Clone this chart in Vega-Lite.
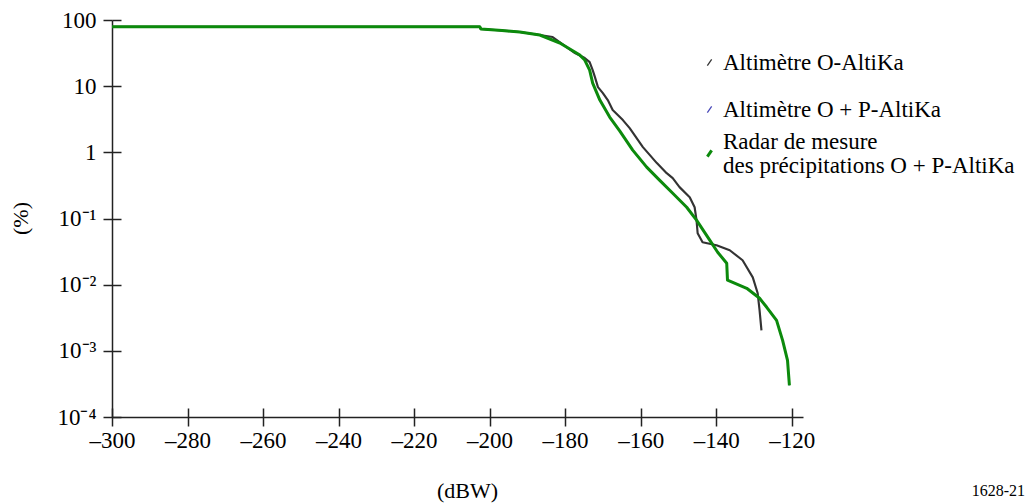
{
  "$schema": "https://vega.github.io/schema/vega-lite/v6.json",
  "width": 691,
  "height": 397,
  "autosize": "none",
  "padding": {"left": 112, "top": 20, "right": 233, "bottom": 87},
  "background": "white",
  "config": {
    "font": "Liberation Serif",
    "view": {"stroke": null},
    "axis": {"labelFont": "Liberation Serif", "titleFont": "Liberation Serif", "labelFlush": false, "grid": true, "gridColor": "#222", "gridWidth": 1.5, "gridOpacity": 1, "domainColor": "#222", "domainWidth": 1.5, "tickColor": "#222", "tickWidth": 1.5, "tickSize": 9, "labelColor": "#000", "titleColor": "#000", "labelFontSize": 23, "titleFontSize": 22, "titleFontWeight": "normal"},
    "legend": {"labelFont": "Liberation Serif", "labelFontSize": 23, "labelColor": "#000", "labelLimit": 500}
  },
  "title": {"text": "1628-21", "orient": "bottom", "anchor": "end", "frame": "group", "font": "Liberation Serif", "fontSize": 16, "fontWeight": "normal", "color": "#000", "dx": 222, "dy": -22},
  "data": {"values": [
    {"s": "Altimètre O-AltiKa", "x": -300, "y": 79.2},
    {"s": "Altimètre O-AltiKa", "x": -202.6, "y": 79.2},
    {"s": "Altimètre O-AltiKa", "x": -202.3, "y": 73.1},
    {"s": "Altimètre O-AltiKa", "x": -196.7, "y": 69.4},
    {"s": "Altimètre O-AltiKa", "x": -192.0, "y": 65.8},
    {"s": "Altimètre O-AltiKa", "x": -186.7, "y": 59.3},
    {"s": "Altimètre O-AltiKa", "x": -183.3, "y": 55.3},
    {"s": "Altimètre O-AltiKa", "x": -177.4, "y": 31.7},
    {"s": "Altimètre O-AltiKa", "x": -174.8, "y": 26.6},
    {"s": "Altimètre O-AltiKa", "x": -173.5, "y": 23.1},
    {"s": "Altimètre O-AltiKa", "x": -172.7, "y": 17.5},
    {"s": "Altimètre O-AltiKa", "x": -172.1, "y": 13.7},
    {"s": "Altimètre O-AltiKa", "x": -171.3, "y": 9.69},
    {"s": "Altimètre O-AltiKa", "x": -170.0, "y": 7.86},
    {"s": "Altimètre O-AltiKa", "x": -168.7, "y": 6.16},
    {"s": "Altimètre O-AltiKa", "x": -167.4, "y": 4.35},
    {"s": "Altimètre O-AltiKa", "x": -164.7, "y": 3.07},
    {"s": "Altimètre O-AltiKa", "x": -162.9, "y": 2.32},
    {"s": "Altimètre O-AltiKa", "x": -159.4, "y": 1.20},
    {"s": "Altimètre O-AltiKa", "x": -155.7, "y": 0.687},
    {"s": "Altimètre O-AltiKa", "x": -153.1, "y": 0.484},
    {"s": "Altimètre O-AltiKa", "x": -151.5, "y": 0.407},
    {"s": "Altimètre O-AltiKa", "x": -149.7, "y": 0.298},
    {"s": "Altimètre O-AltiKa", "x": -147.0, "y": 0.210},
    {"s": "Altimètre O-AltiKa", "x": -145.7, "y": 0.148},
    {"s": "Altimètre O-AltiKa", "x": -145.2, "y": 0.0943},
    {"s": "Altimètre O-AltiKa", "x": -144.9, "y": 0.0599},
    {"s": "Altimètre O-AltiKa", "x": -143.6, "y": 0.0438},
    {"s": "Altimètre O-AltiKa", "x": -139.9, "y": 0.0395},
    {"s": "Altimètre O-AltiKa", "x": -136.4, "y": 0.0331},
    {"s": "Altimètre O-AltiKa", "x": -133.0, "y": 0.0234},
    {"s": "Altimètre O-AltiKa", "x": -130.3, "y": 0.0129},
    {"s": "Altimètre O-AltiKa", "x": -129.0, "y": 0.00741},
    {"s": "Altimètre O-AltiKa", "x": -128.5, "y": 0.00410},
    {"s": "Altimètre O-AltiKa", "x": -128.0, "y": 0.00204},
    {"s": "Altimètre O + P-AltiKa", "x": -300, "y": 79.2},
    {"s": "Altimètre O + P-AltiKa", "x": -202.6, "y": 79.2},
    {"s": "Altimètre O + P-AltiKa", "x": -202.3, "y": 73.1},
    {"s": "Altimètre O + P-AltiKa", "x": -196.7, "y": 69.4},
    {"s": "Altimètre O + P-AltiKa", "x": -192.0, "y": 65.8},
    {"s": "Altimètre O + P-AltiKa", "x": -186.7, "y": 59.3},
    {"s": "Altimètre O + P-AltiKa", "x": -181.4, "y": 44.9},
    {"s": "Altimètre O + P-AltiKa", "x": -176.1, "y": 29.5},
    {"s": "Altimètre O + P-AltiKa", "x": -174.8, "y": 24.8},
    {"s": "Altimètre O + P-AltiKa", "x": -173.5, "y": 17.5},
    {"s": "Altimètre O + P-AltiKa", "x": -172.7, "y": 11.1},
    {"s": "Altimètre O + P-AltiKa", "x": -170.8, "y": 6.16},
    {"s": "Altimètre O + P-AltiKa", "x": -168.2, "y": 3.41},
    {"s": "Altimètre O + P-AltiKa", "x": -165.5, "y": 2.09},
    {"s": "Altimètre O + P-AltiKa", "x": -162.1, "y": 1.08},
    {"s": "Altimètre O + P-AltiKa", "x": -158.4, "y": 0.597},
    {"s": "Altimètre O + P-AltiKa", "x": -155.0, "y": 0.380},
    {"s": "Altimètre O + P-AltiKa", "x": -151.5, "y": 0.241},
    {"s": "Altimètre O + P-AltiKa", "x": -147.8, "y": 0.148},
    {"s": "Altimètre O + P-AltiKa", "x": -145.2, "y": 0.0943},
    {"s": "Altimètre O + P-AltiKa", "x": -141.7, "y": 0.0470},
    {"s": "Altimètre O + P-AltiKa", "x": -139.6, "y": 0.0309},
    {"s": "Altimètre O + P-AltiKa", "x": -137.2, "y": 0.0211},
    {"s": "Altimètre O + P-AltiKa", "x": -137.0, "y": 0.0117},
    {"s": "Altimètre O + P-AltiKa", "x": -131.9, "y": 0.00882},
    {"s": "Altimètre O + P-AltiKa", "x": -128.5, "y": 0.00623},
    {"s": "Altimètre O + P-AltiKa", "x": -126.6, "y": 0.00455},
    {"s": "Altimètre O + P-AltiKa", "x": -124.0, "y": 0.00289},
    {"s": "Altimètre O + P-AltiKa", "x": -122.4, "y": 0.00144},
    {"s": "Altimètre O + P-AltiKa", "x": -121.1, "y": 0.000718},
    {"s": "Altimètre O + P-AltiKa", "x": -120.6, "y": 0.000301},
    {"s": "Radar de mesure des précipitations O + P-AltiKa", "x": -300, "y": 79.2},
    {"s": "Radar de mesure des précipitations O + P-AltiKa", "x": -202.6, "y": 79.2},
    {"s": "Radar de mesure des précipitations O + P-AltiKa", "x": -202.3, "y": 73.1},
    {"s": "Radar de mesure des précipitations O + P-AltiKa", "x": -196.7, "y": 69.4},
    {"s": "Radar de mesure des précipitations O + P-AltiKa", "x": -192.0, "y": 65.8},
    {"s": "Radar de mesure des précipitations O + P-AltiKa", "x": -186.7, "y": 59.3},
    {"s": "Radar de mesure des précipitations O + P-AltiKa", "x": -181.4, "y": 44.9},
    {"s": "Radar de mesure des précipitations O + P-AltiKa", "x": -176.1, "y": 29.5},
    {"s": "Radar de mesure des précipitations O + P-AltiKa", "x": -174.8, "y": 24.8},
    {"s": "Radar de mesure des précipitations O + P-AltiKa", "x": -173.5, "y": 17.5},
    {"s": "Radar de mesure des précipitations O + P-AltiKa", "x": -172.7, "y": 11.1},
    {"s": "Radar de mesure des précipitations O + P-AltiKa", "x": -170.8, "y": 6.16},
    {"s": "Radar de mesure des précipitations O + P-AltiKa", "x": -168.2, "y": 3.41},
    {"s": "Radar de mesure des précipitations O + P-AltiKa", "x": -165.5, "y": 2.09},
    {"s": "Radar de mesure des précipitations O + P-AltiKa", "x": -162.1, "y": 1.08},
    {"s": "Radar de mesure des précipitations O + P-AltiKa", "x": -158.4, "y": 0.597},
    {"s": "Radar de mesure des précipitations O + P-AltiKa", "x": -155.0, "y": 0.380},
    {"s": "Radar de mesure des précipitations O + P-AltiKa", "x": -151.5, "y": 0.241},
    {"s": "Radar de mesure des précipitations O + P-AltiKa", "x": -147.8, "y": 0.148},
    {"s": "Radar de mesure des précipitations O + P-AltiKa", "x": -145.2, "y": 0.0943},
    {"s": "Radar de mesure des précipitations O + P-AltiKa", "x": -141.7, "y": 0.0470},
    {"s": "Radar de mesure des précipitations O + P-AltiKa", "x": -139.6, "y": 0.0309},
    {"s": "Radar de mesure des précipitations O + P-AltiKa", "x": -137.2, "y": 0.0211},
    {"s": "Radar de mesure des précipitations O + P-AltiKa", "x": -137.0, "y": 0.0117},
    {"s": "Radar de mesure des précipitations O + P-AltiKa", "x": -131.9, "y": 0.00882},
    {"s": "Radar de mesure des précipitations O + P-AltiKa", "x": -128.5, "y": 0.00623},
    {"s": "Radar de mesure des précipitations O + P-AltiKa", "x": -126.6, "y": 0.00455},
    {"s": "Radar de mesure des précipitations O + P-AltiKa", "x": -124.0, "y": 0.00289},
    {"s": "Radar de mesure des précipitations O + P-AltiKa", "x": -122.4, "y": 0.00144},
    {"s": "Radar de mesure des précipitations O + P-AltiKa", "x": -121.1, "y": 0.000718},
    {"s": "Radar de mesure des précipitations O + P-AltiKa", "x": -120.6, "y": 0.000301}
  ]},
  "mark": {"type": "line", "interpolate": "linear", "strokeJoin": "round", "strokeCap": "butt"},
  "encoding": {
    "x": {"field": "x", "type": "quantitative", "scale": {"domain": [-300, -117], "nice": false, "zero": false},
      "axis": {"orient": "bottom", "values": [-300, -280, -260, -240, -220, -200, -180, -160, -140, -120], "labelExpr": "'–' + abs(datum.value)", "labelPadding": 3, "gridDash": [0, 388, 9, 2000], "title": "(dBW)", "titleX": 355, "titleY": 73, "titleBaseline": "middle", "titleAnchor": "start", "titleAlign": "center"}},
    "y": {"field": "y", "type": "quantitative", "scale": {"type": "log", "domain": [0.0001, 100], "nice": false},
      "axis": {"orient": "left", "values": [0.0001, 0.001, 0.01, 0.1, 1, 10, 100], "labelExpr": "datum.value >= 1 ? format(datum.value, 'd') : datum.value >= 0.09 ? '10⁻¹' : datum.value >= 0.009 ? '10⁻²' : datum.value >= 0.0009 ? '10⁻³' : '10⁻⁴'", "labelPadding": 7, "gridDash": [9, 2000], "title": "(%)", "titleX": -92, "titleY": 198, "titleBaseline": "middle", "titleAngle": -90, "titleAnchor": "start", "titleAlign": "center"}},
    "color": {"field": "s", "type": "nominal", "sort": null,
      "scale": {"domain": ["Altimètre O-AltiKa", "Altimètre O + P-AltiKa", "Radar de mesure des précipitations O + P-AltiKa"], "range": ["#333333", "#4848b8", "#0c8a0c"]},
      "legend": {"orient": "none", "legendX": 586, "legendY": 31, "title": null, "values": ["Altimètre O-AltiKa", "Altimètre O + P-AltiKa"], "symbolType": "M -0.35 0.5 L 0.35 -0.5", "symbolSize": 150, "symbolStrokeWidth": 1.3, "labelOffset": 2, "rowPadding": 23}},
    "strokeWidth": {"field": "s", "type": "ordinal",
      "scale": {"domain": ["Radar de mesure des précipitations O + P-AltiKa", "Altimètre O-AltiKa", "Altimètre O + P-AltiKa"], "range": [3, 1.3, 1.3]},
      "legend": {"orient": "none", "legendX": 586, "legendY": 122, "title": null, "values": ["Radar de mesure des précipitations O + P-AltiKa"], "symbolType": "M -0.35 0.5 L 0.35 -0.5", "symbolSize": 150, "symbolStrokeColor": "#0c8a0c", "labelOffset": 2,
        "labelExpr": "['Radar de mesure', 'des précipitations O + P-AltiKa']",
        "encode": {"labels": {"update": {"dy": {"value": -12}, "lineHeight": {"value": 24}}}}}}
  }
}
